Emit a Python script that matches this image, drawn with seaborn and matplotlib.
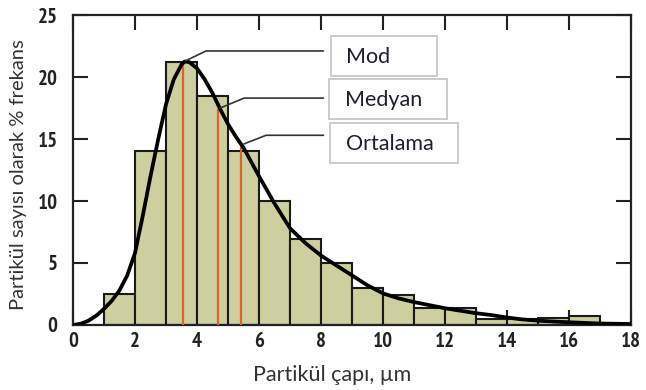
import numpy as np
import pandas as pd
import matplotlib
matplotlib.use("Agg")
import matplotlib.pyplot as plt
from matplotlib.patches import Rectangle
import seaborn as sns

# ---------------- data ----------------
bin_left = [1, 2, 3, 4, 5, 6, 7, 8, 9, 10, 11, 12, 13, 14, 15, 16]
freq = [2.5, 14.0, 21.2, 18.5, 14.0, 10.0, 6.9, 5.0, 3.0, 2.4, 1.4, 1.4, 0.45, 0.45, 0.6, 0.7]

curve_x = [0, 0.25, 0.5, 0.75, 1.0, 1.25, 1.5, 1.75, 2.0, 2.25, 2.5, 2.75, 3.0, 3.25,
           3.5, 3.6, 3.75, 4.0, 4.25, 4.5, 4.75, 5.0, 5.25, 5.5, 6.0, 6.5, 7.0, 7.5,
           8.0, 8.5, 9.0, 9.5, 10.0, 10.5, 11.0, 11.5, 12.0, 12.5, 13.0, 13.5, 14.0,
           14.5, 15.0, 15.5, 16.0, 17.0, 18.0]
curve_y = [0, 0.1, 0.35, 0.75, 1.3, 1.95, 2.8, 4.0, 5.8, 8.8, 12.0, 15.0, 17.8, 19.8,
           21.0, 21.25, 21.2, 20.7, 19.8, 18.7, 17.4, 16.2, 15.2, 14.3, 12.0, 9.8, 7.8, 6.6,
           5.6, 4.8, 4.0, 3.2, 2.55, 2.15, 1.85, 1.6, 1.35, 1.15, 0.95, 0.8, 0.6,
           0.45, 0.35, 0.28, 0.22, 0.12, 0.08]

stat_names = ["Mod", "Medyan", "Ortalama"]
stat_x = [3.55, 4.67, 5.43]
stat_y = [21.2, 17.4, 14.5]

x_ticks = [0, 2, 4, 6, 8, 10, 12, 14, 16, 18]
y_ticks = [0, 5, 10, 15, 20, 25]
x_label = "Partikül çapı, µm"
y_label = "Partikül sayısı olarak % frekans"

# ---------------- style ----------------
sns.set_theme(style="white")
plt.rcParams["font.family"] = ["Lato", "DejaVu Sans"]

W, H = 646, 390
fig = plt.figure(figsize=(W / 100, H / 100), dpi=100)
ax = fig.add_axes([73 / W, 1 - 325 / H, (631 - 73) / W, (325 - 15) / H])

bars = pd.DataFrame({"center": np.array(bin_left, dtype=float) + 0.5,
                     "freq": np.array(freq, dtype=float)})
sns.histplot(data=bars, x="center", weights="freq",
             binwidth=1, binrange=(bin_left[0], bin_left[-1] + 1),
             color="#CDCF9E", edgecolor="#1a1a1a", linewidth=1.5, alpha=1.0, ax=ax)

for sx, sy in zip(stat_x, stat_y):
    ax.plot([sx, sx], [0, sy], color="#E0622A", lw=1.6, zorder=3,
            solid_capstyle="butt")

curve = pd.DataFrame({"x": curve_x, "y": curve_y})
sns.lineplot(data=curve, x="x", y="y", color="black", lw=2.7, ax=ax, zorder=4)
ax.lines[-1].set_solid_joinstyle("round")

corner_dx = [0.74, 0.85, 0.80]
corner_dy = [0.9, 0.9, 0.8]
end_x = 8.08
box_px = [(331, 36, 437, 76), (329, 79, 447, 119), (330, 123, 458, 163)]
text_px = [(346, 57), (345, 99.5), (346, 143.5)]
for i, name in enumerate(stat_names):
    cx = stat_x[i] + corner_dx[i]
    cy = stat_y[i] + corner_dy[i]
    ax.plot([stat_x[i] + 0.08, cx, end_x], [stat_y[i] + 0.1, cy, cy],
            color="#333333", lw=1.2, zorder=5, clip_on=False)
    x0, y0, x1, y1 = box_px[i]
    fig.patches.append(Rectangle((x0 / W, 1 - y1 / H), (x1 - x0) / W, (y1 - y0) / H,
                                 transform=fig.transFigure, facecolor="white",
                                 edgecolor="#C8C8C8", lw=1.3, zorder=6))
    tx, ty = text_px[i]
    fig.text(tx / W, 1 - ty / H, name, ha="left", va="center", fontsize=15.5,
             color="#1e1e30", zorder=7)

ax.set_xlim(0, 18)
ax.set_ylim(0, 25)
ax.set_xticks(x_ticks)
ax.set_yticks(y_ticks)
tick_font = dict(family=["PT Sans Narrow", "Liberation Sans", "DejaVu Sans"],
                 weight="bold", size=15)
ax.set_xticklabels([str(t) for t in x_ticks], fontdict=tick_font, color="#222222")
ax.set_yticklabels([str(t) for t in y_ticks], fontdict=tick_font, color="#222222")
ax.tick_params(axis="both", which="major", direction="in", length=11, width=1.5,
               color="#222222", top=True, right=True, bottom=True, left=True)
ax.tick_params(axis="x", pad=5)
ax.tick_params(axis="y", pad=11)

for sp in ax.spines.values():
    sp.set_visible(True)
    sp.set_color("#222222")
    sp.set_linewidth(1.6)

ax.set_xlabel(x_label, fontsize=15.5, color="#333333", va="center")
ax.set_ylabel(y_label, fontsize=14.5, color="#333333", va="center")
ax.xaxis.set_label_coords((332 - 73) / 558, (325 - 375) / 310)
ax.yaxis.set_label_coords((19 - 73) / 558, (325 - 175) / 310)

fig.savefig("out.png", dpi=100)
